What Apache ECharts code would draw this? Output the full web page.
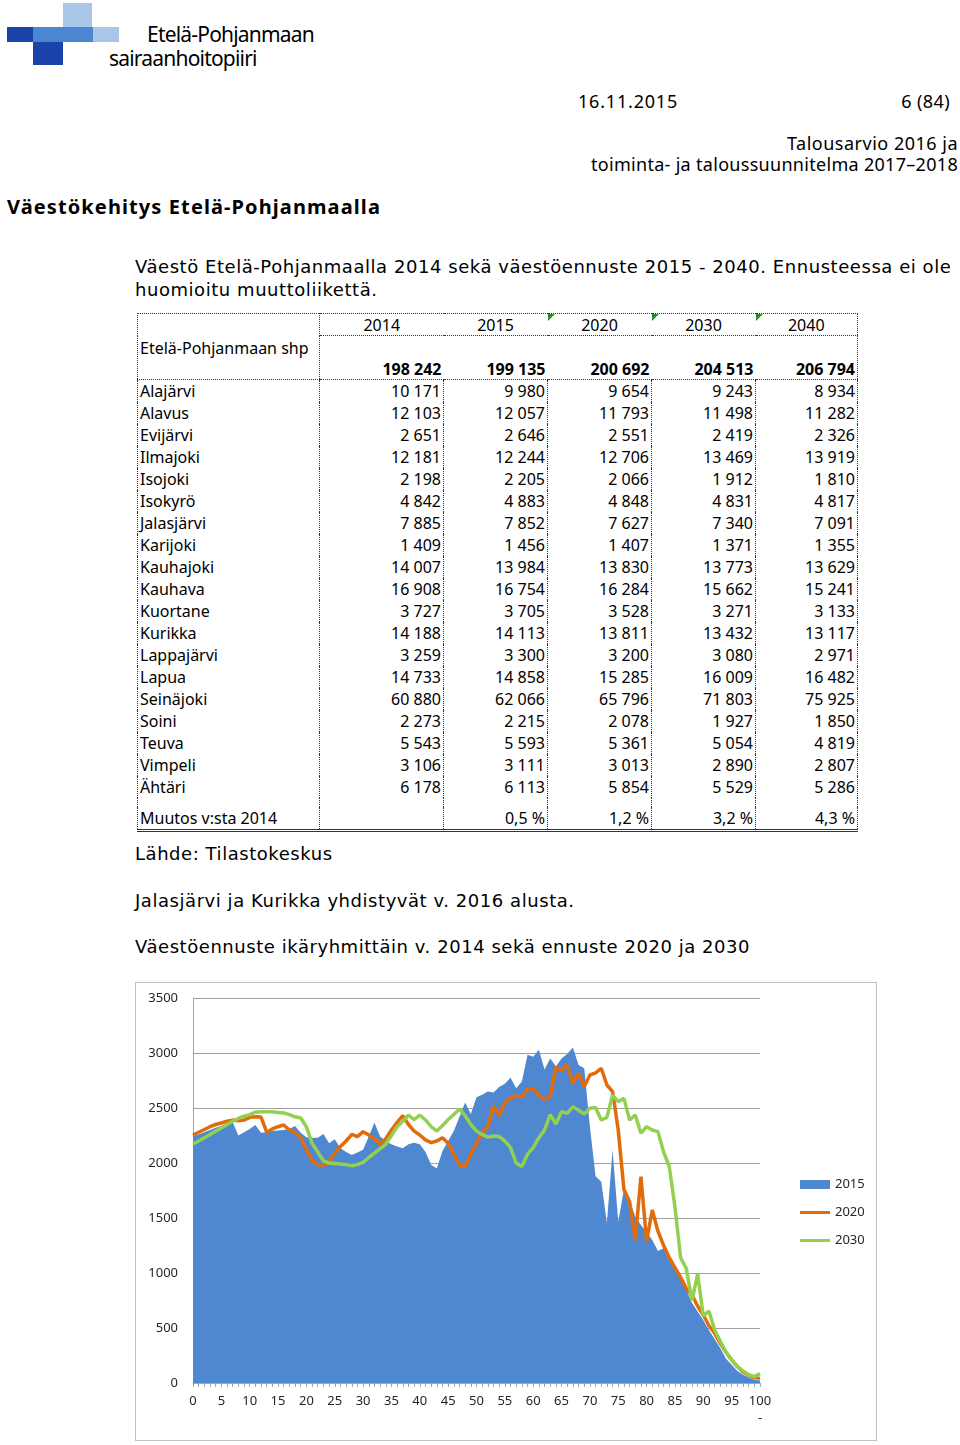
<!DOCTYPE html>
<html>
<head>
<meta charset="utf-8">
<script src="https://cdn.jsdelivr.net/npm/echarts@6/dist/echarts.min.js"></script>
<style>
  body { margin: 0; width: 960px; height: 1445px; position: relative; background: #fff;
         font-family: "Noto Sans", sans-serif; color: #000; }
  .t { position: absolute; white-space: nowrap; font-size: 18px; line-height: 22px; }
  .body { font-family: "DejaVu Sans", sans-serif; font-size: 18px; letter-spacing: 0.55px; }
  .logo-block { position: absolute; }
  table.pop { position: absolute; left: 137px; top: 313px; border-collapse: collapse;
              table-layout: fixed; font-size: 16px; border: 1px dotted #333; }
  table.pop td { padding: 0 2px; height: 22px; line-height: 20px; text-align: right;
                 border-left: 1px dotted #333; white-space: nowrap; }
  table.pop td.name { text-align: left; }
  table.pop tr.head td { text-align: center; border-left: none; height: 21px; }
  table.pop tr.head td.first { border-left: 1px dotted #333; }
  table.pop tr.head td.name { text-align: left; }
  table.pop tr.tot td { font-weight: bold; vertical-align: bottom; height: 43px;
                        border-left: none; border-top: 1px dotted #333; border-bottom: 1px dotted #333; }
  table.pop tr.tot td.first { border-left: 1px dotted #333; }
  table.pop tr.gap td { height: 9px; }
  table.pop tr.chg td { border-bottom: 3px double #333; }
  .tri { position: absolute; width: 0; height: 0; border-top: 7px solid #2e8b2e;
         border-right: 7px solid transparent; }
  #chart { position: absolute; left: 135px; top: 982px; width: 742px; height: 459px;
           box-sizing: border-box; border: 1px solid #c0c0c0; }
</style>
</head>
<body>
<!-- logo -->
<div class="logo-block" style="left:63px;top:3px;width:29px;height:29px;background:#a9c5e8"></div>
<div class="logo-block" style="left:7px;top:27px;width:26px;height:15px;background:#1a44aa"></div>
<div class="logo-block" style="left:33px;top:27px;width:60px;height:15px;background:#4c86d2"></div>
<div class="logo-block" style="left:93px;top:27px;width:26px;height:15px;background:#a9c5e8"></div>
<div class="logo-block" style="left:33px;top:42px;width:30px;height:23px;background:#1a44aa"></div>
<div class="t" style="left:147px;top:22px;font-size:21px;line-height:24px;letter-spacing:-0.8px">Etelä-Pohjanmaan</div>
<div class="t" style="left:109px;top:46px;font-size:21px;line-height:24px;letter-spacing:-0.8px">sairaanhoitopiiri</div>

<div class="t" style="left:578px;top:90px;letter-spacing:0.8px">16.11.2015</div>
<div class="t" style="right:10px;top:90px;letter-spacing:0.4px">6 (84)</div>
<div class="t" style="right:2px;top:132px;letter-spacing:0.5px">Talousarvio 2016 ja</div>
<div class="t" style="right:2px;top:153px;letter-spacing:0.3px">toiminta- ja taloussuunnitelma 2017–2018</div>
<div class="t" style="left:7px;top:195px;font-size:20px;line-height:24px;font-weight:bold;letter-spacing:1.1px">Väestökehitys Etelä-Pohjanmaalla</div>
<div class="t body" style="left:135px;top:256px">Väestö Etelä-Pohjanmaalla 2014 sekä väestöennuste 2015 - 2040. Ennusteessa ei ole</div>
<div class="t body" style="left:135px;top:279px">huomioitu muuttoliikettä.</div>

<table class="pop" id="pop"></table>
<div class="tri" style="left:548px;top:314px"></div>
<div class="tri" style="left:652px;top:314px"></div>
<div class="tri" style="left:756px;top:314px"></div>

<div class="t body" style="left:135px;top:843px">Lähde: Tilastokeskus</div>
<div class="t body" style="left:135px;top:890px">Jalasjärvi ja Kurikka yhdistyvät v. 2016 alusta.</div>
<div class="t body" style="left:135px;top:936px">Väestöennuste ikäryhmittäin v. 2014 sekä ennuste 2020 ja 2030</div>

<div id="chart"></div>

<script>
// ---- table data ----
const years = ['2014', '2015', '2020', '2030', '2040']
const regionName = 'Etelä-Pohjanmaan shp'
const regionTotals = ['198 242', '199 135', '200 692', '204 513', '206 794']
const municipalities = ['Alajärvi', 'Alavus', 'Evijärvi', 'Ilmajoki', 'Isojoki', 'Isokyrö', 'Jalasjärvi',
  'Karijoki', 'Kauhajoki', 'Kauhava', 'Kuortane', 'Kurikka', 'Lappajärvi', 'Lapua', 'Seinäjoki',
  'Soini', 'Teuva', 'Vimpeli', 'Ähtäri']
const pop2014 = ['10 171', '12 103', '2 651', '12 181', '2 198', '4 842', '7 885', '1 409', '14 007', '16 908', '3 727', '14 188', '3 259', '14 733', '60 880', '2 273', '5 543', '3 106', '6 178']
const pop2015 = ['9 980', '12 057', '2 646', '12 244', '2 205', '4 883', '7 852', '1 456', '13 984', '16 754', '3 705', '14 113', '3 300', '14 858', '62 066', '2 215', '5 593', '3 111', '6 113']
const pop2020 = ['9 654', '11 793', '2 551', '12 706', '2 066', '4 848', '7 627', '1 407', '13 830', '16 284', '3 528', '13 811', '3 200', '15 285', '65 796', '2 078', '5 361', '3 013', '5 854']
const pop2030 = ['9 243', '11 498', '2 419', '13 469', '1 912', '4 831', '7 340', '1 371', '13 773', '15 662', '3 271', '13 432', '3 080', '16 009', '71 803', '1 927', '5 054', '2 890', '5 529']
const pop2040 = ['8 934', '11 282', '2 326', '13 919', '1 810', '4 817', '7 091', '1 355', '13 629', '15 241', '3 133', '13 117', '2 971', '16 482', '75 925', '1 850', '4 819', '2 807', '5 286']
const changeLabel = 'Muutos v:sta 2014'
const changes = ['', '0,5 %', '1,2 %', '3,2 %', '4,3 %']

// ---- chart data: population by age ----
const ages = ['0', '1', '2', '3', '4', '5', '6', '7', '8', '9', '10', '11', '12', '13', '14', '15', '16', '17', '18', '19',
  '20', '21', '22', '23', '24', '25', '26', '27', '28', '29', '30', '31', '32', '33', '34', '35', '36', '37', '38', '39',
  '40', '41', '42', '43', '44', '45', '46', '47', '48', '49', '50', '51', '52', '53', '54', '55', '56', '57', '58', '59',
  '60', '61', '62', '63', '64', '65', '66', '67', '68', '69', '70', '71', '72', '73', '74', '75', '76', '77', '78', '79',
  '80', '81', '82', '83', '84', '85', '86', '87', '88', '89', '90', '91', '92', '93', '94', '95', '96', '97', '98', '99', '100-']
const yTicks = [0, 500, 1000, 1500, 2000, 2500, 3000, 3500]
const s2015 = [
  2245, 2260, 2280, 2300, 2320, 2336, 2355, 2370, 2250, 2280,
  2310, 2345, 2275, 2280, 2290, 2295, 2300, 2310, 2336, 2275,
  2235, 2227, 2230, 2264, 2179, 2215, 2133, 2100, 2073, 2095,
  2120, 2240, 2367, 2240, 2200, 2170, 2150, 2133, 2170, 2185,
  2170, 2100, 1985, 1950, 2110, 2200, 2290, 2420, 2549, 2446,
  2597, 2620, 2650, 2640, 2690, 2720, 2775, 2680, 2740, 2985,
  2965, 3030, 2850, 2950, 2880, 2951, 2990, 3051, 2891, 2861,
  2330, 1880, 1830, 1455, 2118, 1465, 1760, 1664, 1512, 1437,
  1370, 1300, 1200, 1224, 1110, 1050, 960, 850, 730, 650,
  570, 480, 400, 315, 220, 165, 110, 75, 50, 30,
  22]
const s2020 = [
  2255, 2280, 2305, 2330, 2350, 2364, 2380, 2390, 2385, 2390,
  2415, 2420, 2418, 2280, 2310, 2330, 2345, 2300, 2280, 2230,
  2120, 2020, 1985, 1982, 2012, 2090, 2150, 2200, 2261, 2240,
  2285, 2255, 2220, 2170, 2220, 2300, 2370, 2430, 2350, 2290,
  2255, 2210, 2185, 2200, 2230, 2180, 2080, 1982, 1967, 2080,
  2180, 2280, 2330, 2520, 2430, 2550, 2590, 2610, 2600, 2670,
  2680, 2610, 2580, 2603, 2870, 2846, 2891, 2724, 2815, 2694,
  2800, 2820, 2861, 2709, 2649, 2300, 1760, 1650, 1300, 1876,
  1290, 1573, 1380, 1250, 1140, 1050, 960, 860, 800, 700,
  618, 520, 452, 361, 280, 210, 150, 100, 70, 50,
  42]
const s2030 = [
  2173, 2200, 2230, 2260, 2290, 2318, 2350, 2380, 2405, 2425,
  2440, 2462, 2466, 2466, 2465, 2460, 2455, 2440, 2420, 2409,
  2330, 2180, 2100, 2020, 2000, 1995, 1990, 1985, 1975, 1985,
  2005, 2050, 2090, 2130, 2170, 2250, 2330, 2380, 2435, 2395,
  2436, 2391, 2330, 2290, 2340, 2395, 2440, 2490, 2430, 2350,
  2290, 2260, 2235, 2245, 2240, 2200, 2140, 2000, 1967, 2080,
  2140, 2230, 2300, 2440, 2355, 2467, 2452, 2512, 2480, 2446,
  2497, 2505, 2391, 2415, 2618, 2558, 2588, 2391, 2436, 2270,
  2330, 2300, 2285, 2100, 1967, 1600, 1140, 1040, 750, 990,
  610, 655, 482, 380, 280, 210, 150, 110, 75, 58,
  85]

// ---- build table ----
const rows = []
rows.push('<colgroup><col style="width:182px"><col style="width:124px"><col style="width:104px">' +
  '<col style="width:104px"><col style="width:104px"><col style="width:102px"></colgroup>')
rows.push('<tr class="head"><td class="name" rowspan="2" style="border-bottom:1px dotted #333;padding-top:2px">' + regionName + '</td>' +
  years.map((y, i) => '<td' + (i === 0 ? ' class="first"' : '') + '>' + y + '</td>').join('') + '</tr>')
rows.push('<tr class="tot">' + regionTotals.map((v, i) => '<td' + (i === 0 ? ' class="first"' : '') + '>' + v + '</td>').join('') + '</tr>')
const cols = [pop2014, pop2015, pop2020, pop2030, pop2040]
municipalities.forEach((m, r) => {
  rows.push('<tr><td class="name" style="border-left:none">' + m + '</td>' + cols.map(c => '<td>' + c[r] + '</td>').join('') + '</tr>')
})
rows.push('<tr class="gap"><td style="border-left:none"></td>' + cols.map(() => '<td></td>').join('') + '</tr>')
rows.push('<tr class="chg"><td class="name" style="border-left:none">' + changeLabel + '</td>' + changes.map(c => '<td>' + c + '</td>').join('') + '</tr>')
document.getElementById('pop').innerHTML = rows.join('')

// ---- chart ----
const chart = echarts.init(document.getElementById('chart'))
const axisGrey = '#a6a6a6'
const lineIcon = 'path://M0,0 L30,0 L30,3 L0,3 Z'
chart.setOption({
  animation: false,
  textStyle: { fontFamily: 'Noto Sans' },
  grid: { left: 57, right: 116, top: 15, bottom: 57 },
  legend: {
    orient: 'vertical',
    left: 659,
    top: 190,
    itemWidth: 30,
    itemHeight: 9,
    itemGap: 15,
    textStyle: { fontSize: 13, color: '#262626' },
    data: [{ name: '2015', icon: 'rect' }, { name: '2020', icon: lineIcon }, { name: '2030', icon: lineIcon }]
  },
  xAxis: {
    type: 'category',
    data: ages,
    boundaryGap: false,
    axisLine: { lineStyle: { color: axisGrey } },
    axisTick: { interval: 0, length: 4, lineStyle: { color: axisGrey } },
    axisLabel: {
      interval: 4,
      margin: 10,
      fontSize: 13,
      color: '#262626',
      lineHeight: 17,
      formatter: v => v.replace('-', '\n-')
    }
  },
  yAxis: {
    type: 'value',
    min: yTicks[0],
    max: yTicks[yTicks.length - 1],
    interval: 500,
    axisLine: { show: true, lineStyle: { color: axisGrey } },
    axisLabel: { fontSize: 13, color: '#262626', margin: 15, formatter: v => String(v) },
    splitLine: { lineStyle: { color: '#a0a0a0' } }
  },
  series: [
    {
      name: '2015',
      type: 'line',
      data: s2015,
      symbol: 'none',
      itemStyle: { color: '#4f87d0' },
      lineStyle: { width: 0 },
      areaStyle: { color: '#4f87d0', opacity: 1 }
    },
    {
      name: '2020',
      type: 'line',
      data: s2020,
      symbol: 'none',
      itemStyle: { color: '#e36c0a' },
      lineStyle: { color: '#e36c0a', width: 3.5 }
    },
    {
      name: '2030',
      type: 'line',
      data: s2030,
      symbol: 'none',
      itemStyle: { color: '#92d050' },
      lineStyle: { color: '#92d050', width: 3.5 }
    }
  ]
})
</script>
</body>
</html>
